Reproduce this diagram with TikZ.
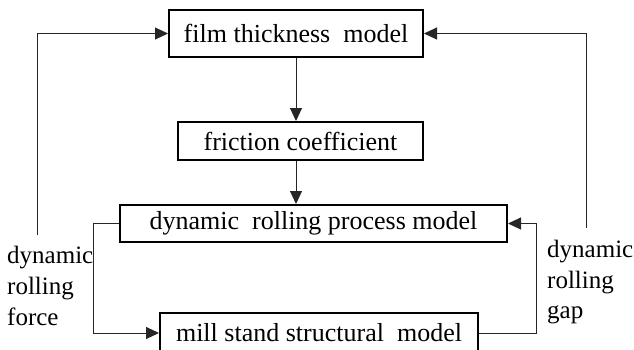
\documentclass[tikz,border=0pt]{standalone}
\usepackage{fontspec}
\setmainfont{Liberation Serif}
\usetikzlibrary{arrows.meta}
\begin{document}
\begin{tikzpicture}[x=1pt,y=-1pt,
  box/.style={draw, line width=2pt, inner sep=0pt, font=\fontsize{26}{31}\selectfont},
  conn/.style={draw=black!85, line width=1pt, -{Triangle[length=13pt,width=12pt]}},
  lbl/.style={anchor=base west, inner sep=0pt, font=\fontsize{25}{30}\selectfont}]
\useasboundingbox (0,0) rectangle (634,349);
\node[box, minimum width=254pt, minimum height=47pt] (fm) at (296,33.5) {film thickness\ \ model};
\node[box, minimum width=245pt, minimum height=38pt] (fc) at (300.5,141) {friction coefficient};
\node[box, minimum width=387pt, minimum height=37pt] (dr) at (313.5,223.5) {dynamic\ \ rolling process model};
\node[box, minimum width=318pt, minimum height=40pt] (ms) at (319,333) {mill stand structural\ \ model};
\node[lbl] (lf1) at (7,263) {dynamic};
\node[lbl] (lf2) at (7,294) {rolling};
\node[lbl] (lf3) at (7,325) {force};
\node[lbl] (rg1) at (547,257) {dynamic};
\node[lbl] (rg2) at (547,288) {rolling};
\node[lbl] (rg3) at (547,318) {gap};
\coordinate (fl) at (37,235);
\coordinate (fr) at (586,228);
\draw[conn] (fm.south) -- (fm.south |- fc.north);
\draw[conn] (fm.south |- fc.south) -- (fm.south |- dr.north);
\draw[conn] (fl) |- (fm.west);
\draw[conn] (fr) |- (fm.east);
\draw[conn] (dr.west) -- ++(-26,0) |- (ms.west);
\draw[conn] (ms.east) -- ++(57,0) |- (dr.east);
\end{tikzpicture}
\end{document}
